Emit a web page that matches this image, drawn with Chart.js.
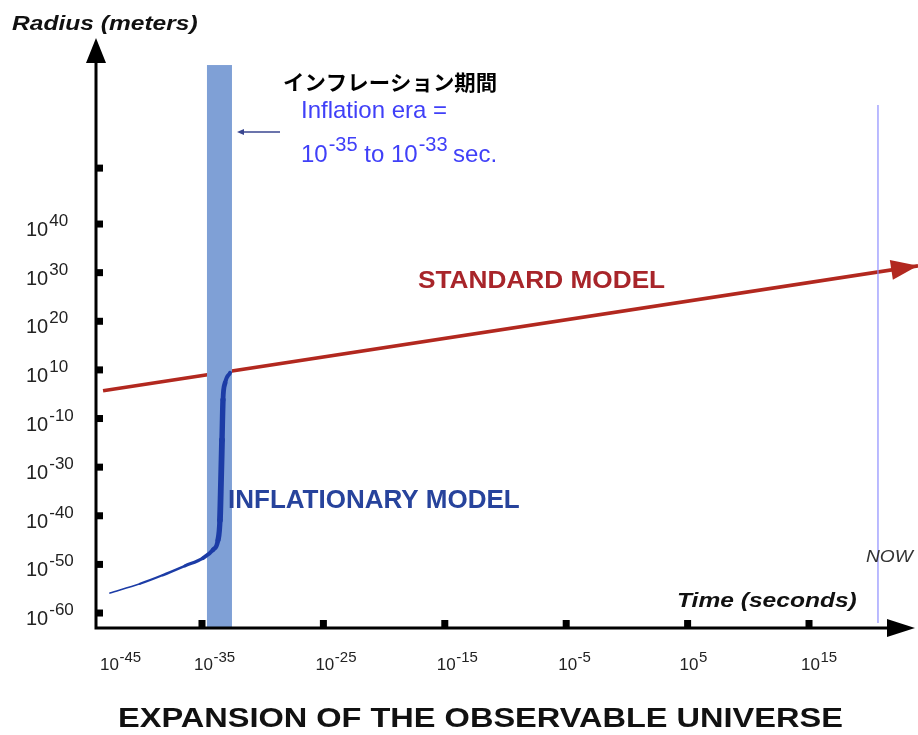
<!DOCTYPE html>
<html>
<head>
<meta charset="utf-8">
<script src="https://cdn.jsdelivr.net/npm/chart.js@4/dist/chart.umd.min.js"></script>
<style>
  html, body { margin: 0; padding: 0; background: #ffffff; }
  canvas { display: block; }
</style>
</head>
<body>
<canvas id="c" width="918" height="735"></canvas>
<script>
// ---- data (x = log10 of time in seconds; y = position on the schematic radius axis) ----
const xTickExponents = ["-45", "-35", "-25", "-15", "-5", "5", "15"];
const xTickValues = [-45, -35, -25, -15, -5, 5, 15];
const yTickPositions = [0, 1, 2, 3, 4, 5, 6, 7, 8, 9.15];
const yTickExponents = ["-60", "-50", "-40", "-30", "-10", "10", "20", "30", "40", ""];

const standardTime = [-43.15, 23.98];
const standardRadius = [4.57, 7.14];

const inflationaryTime = [-42.58, -40.11, -38.21, -36.40, -34.92, -34.09, -33.68, -33.52, -33.43, -33.35, -33.27, -33.10, -32.69];
const inflationaryRadius = [0.41, 0.60, 0.78, 0.97, 1.13, 1.30, 1.50, 1.91, 2.74, 3.56, 4.38, 4.73, 4.94];
const inflationaryWidth = [1.6, 2.1, 2.6, 3.2, 3.9, 4.6, 5.3, 5.8, 5.8, 5.4, 4.8, 4.0];

const inflationEra = [-34.59, -32.53];   // shaded band (time)
const inflationEraTop = 11.27;            // band top (radius axis position)
const nowTime = 20.68;
const nowTop = 10.45;

const yTitle = "Radius (meters)";
const xTitle = "Time (seconds)";
const chartTitle = "EXPANSION OF THE OBSERVABLE UNIVERSE";

const RED = "#b2281f";
const DARKBLUE = "#1c3ca6";

function zip(xs, ys) { return xs.map((x, i) => ({ x: x, y: ys[i] })); }

function txt(ctx, s, x, y, font, color, sx, align) {
  ctx.save();
  ctx.font = font;
  ctx.fillStyle = color;
  ctx.textBaseline = "alphabetic";
  ctx.textAlign = align || "left";
  ctx.translate(x, y);
  ctx.scale(sx || 1, 1);
  ctx.fillText(s, 0, 0);
  ctx.restore();
}

const schematicPlugin = {
  id: "schematic",
  afterDatasetDraw(chart, args) {
    // band drawn over the standard-model line but under the inflationary curve
    if (args.index !== 1) return;
    const ctx = chart.ctx, xs = chart.scales.x, ys = chart.scales.y;
    const x0 = xs.getPixelForValue(inflationEra[0]);
    const x1 = xs.getPixelForValue(inflationEra[1]);
    const yt = ys.getPixelForValue(inflationEraTop);
    const yb = chart.chartArea.bottom;
    ctx.save();
    ctx.fillStyle = "#7fa0d6";
    ctx.fillRect(x0, yt, x1 - x0, yb - yt);
    ctx.restore();
  },
  afterDatasetsDraw(chart) {
    const ctx = chart.ctx;
    // arrowhead on the standard model line
    const meta = chart.getDatasetMeta(1);
    const p1 = meta.data[meta.data.length - 1], p0 = meta.data[meta.data.length - 2];
    const ang = Math.atan2(p1.y - p0.y, p1.x - p0.x);
    ctx.save();
    ctx.translate(p1.x, p1.y);
    ctx.rotate(ang);
    ctx.fillStyle = RED;
    ctx.beginPath();
    ctx.moveTo(0, 0);
    ctx.lineTo(-27, -10);
    ctx.lineTo(-27, 10);
    ctx.closePath();
    ctx.fill();
    ctx.restore();
  },
  afterDraw(chart) {
    const ctx = chart.ctx, xs = chart.scales.x, ys = chart.scales.y, a = chart.chartArea;
    const axY = a.bottom, axX = a.left;
    ctx.save();
    // NOW line
    const nx = xs.getPixelForValue(nowTime);
    ctx.strokeStyle = "rgba(140,140,255,0.75)";
    ctx.lineWidth = 1.6;
    ctx.beginPath();
    ctx.moveTo(nx, ys.getPixelForValue(nowTop));
    ctx.lineTo(nx, axY - 5);
    ctx.stroke();

    // axes
    ctx.strokeStyle = "#000";
    ctx.fillStyle = "#000";
    ctx.lineWidth = 3;
    ctx.beginPath();
    ctx.moveTo(axX, axY + 1.5);
    ctx.lineTo(axX, a.top + 20);
    ctx.moveTo(axX - 1.5, axY);
    ctx.lineTo(a.right - 20, axY);
    ctx.stroke();
    // y arrow
    ctx.beginPath();
    ctx.moveTo(axX, a.top);
    ctx.lineTo(axX - 10, a.top + 25);
    ctx.lineTo(axX + 10, a.top + 25);
    ctx.closePath();
    ctx.fill();
    // x arrow
    ctx.beginPath();
    ctx.moveTo(a.right, axY);
    ctx.lineTo(a.right - 28, axY - 9);
    ctx.lineTo(a.right - 28, axY + 9);
    ctx.closePath();
    ctx.fill();

    // y ticks + labels
    const FY1 = "20px 'Liberation Sans', Arial, sans-serif", FY2 = "17px 'Liberation Sans', Arial, sans-serif";
    ctx.font = FY1;
    const wY = ctx.measureText("10").width;
    yTickPositions.forEach((v, i) => {
      const py = ys.getPixelForValue(v);
      ctx.fillStyle = "#000";
      ctx.fillRect(axX, py - 3.5, 7, 7);
      const e = yTickExponents[i];
      if (e) {
        txt(ctx, "10", 26, py + 12, FY1, "#222");
        txt(ctx, e, 26 + wY + 1, py + 2, FY2, "#222");
      }
    });

    // x ticks + labels
    const FX1 = "17px 'Liberation Sans', Arial, sans-serif", FX2 = "15px 'Liberation Sans', Arial, sans-serif";
    ctx.font = FX1;
    const wX = ctx.measureText("10").width;
    xTickValues.forEach((v, i) => {
      const px = xs.getPixelForValue(v);
      if (px > axX + 5) {
        ctx.fillStyle = "#000";
        ctx.fillRect(px - 3.5, axY - 8, 7, 8);
      }
      const lx = Math.max(px - 8, axX + 4);
      txt(ctx, "10", lx, axY + 42, FX1, "#222");
      txt(ctx, xTickExponents[i], lx + wX + 0.5, axY + 34, FX2, "#222");
    });

    // axis titles
    txt(ctx, yTitle, 12, 30, "italic bold 21px 'Liberation Sans', Arial, sans-serif", "#111", 1.17);
    txt(ctx, xTitle, 677, 607, "italic bold 21px 'Liberation Sans', Arial, sans-serif", "#111", 1.17);
    txt(ctx, "NOW", 866, 562, "italic 16px 'Liberation Sans', Arial, sans-serif", "#333", 1.2);

    // model labels
    txt(ctx, "STANDARD MODEL", 418, 288, "bold 23px 'Liberation Sans', Arial, sans-serif", "#a8252a", 1.14);
    txt(ctx, "INFLATIONARY MODEL", 228, 508, "bold 26px 'Liberation Sans', Arial, sans-serif", "#27439c", 1.0);

    // inflation era annotation
    txt(ctx, "インフレーション期間", 283, 90, "bold 21px 'Noto Sans CJK JP', sans-serif", "#000", 1.02);
    const BL = "#4040f8";
    const F1 = "24px 'Liberation Sans', Arial, sans-serif", F2 = "20px 'Liberation Sans', Arial, sans-serif";
    txt(ctx, "Inflation era =", 301, 118, F1, BL);
    ctx.font = F1;
    const wTen = ctx.measureText("10").width;
    const wTo = ctx.measureText(" to ").width;
    ctx.font = F2;
    const wE1 = ctx.measureText("-35").width;
    const wE2 = ctx.measureText("-33").width;
    const wSp = ctx.measureText(" ").width;
    let cx = 301;
    const base = 162, sup = 151;
    txt(ctx, "10", cx, base, F1, BL); cx += wTen + 1;
    txt(ctx, "-35", cx, sup, F2, BL); cx += wE1;
    txt(ctx, " to ", cx, base, F1, BL); cx += wTo;
    txt(ctx, "10", cx, base, F1, BL); cx += wTen + 1;
    txt(ctx, "-33", cx, sup, F2, BL); cx += wE2 + wSp;
    txt(ctx, "sec.", cx, base, F1, BL);
    // pointer arrow toward the band
    const bx = xs.getPixelForValue(inflationEra[1]);
    ctx.strokeStyle = "#3a4690";
    ctx.fillStyle = "#3a4690";
    ctx.lineWidth = 1.3;
    ctx.beginPath();
    ctx.moveTo(280, 132);
    ctx.lineTo(bx + 8, 132);
    ctx.stroke();
    ctx.beginPath();
    ctx.moveTo(bx + 5, 132);
    ctx.lineTo(bx + 12, 129);
    ctx.lineTo(bx + 12, 135);
    ctx.closePath();
    ctx.fill();

    // chart title
    txt(ctx, chartTitle, 118, 727, "bold 27px 'Liberation Sans', Arial, sans-serif", "#111", 1.205);
    ctx.restore();
  }
};

new Chart(document.getElementById("c"), {
  type: "line",
  data: {
    datasets: [
      {
        label: "Inflationary model",
        data: zip(inflationaryTime, inflationaryRadius),
        borderColor: DARKBLUE,
        borderWidth: 5,
        borderCapStyle: "round",
        borderJoinStyle: "round",
        pointRadius: 0,
        cubicInterpolationMode: "monotone",
        fill: false,
        clip: false,
        segment: {
          borderWidth: ctx => inflationaryWidth[ctx.p0DataIndex]
        }
      },
      {
        label: "Standard model",
        data: zip(standardTime, standardRadius),
        borderColor: RED,
        borderWidth: 3.5,
        pointRadius: 0,
        fill: false,
        clip: false
      }
    ]
  },
  options: {
    responsive: false,
    devicePixelRatio: 1,
    animation: false,
    layout: { padding: { left: 96, right: 3, top: 38, bottom: 107 } },
    plugins: { legend: { display: false }, tooltip: { enabled: false }, title: { display: false } },
    scales: {
      x: { type: "linear", display: false, min: -43.73, max: 23.73 },
      y: { type: "linear", display: false, min: -0.308, max: 11.826 }
    }
  },
  plugins: [schematicPlugin]
});
</script>
</body>
</html>
